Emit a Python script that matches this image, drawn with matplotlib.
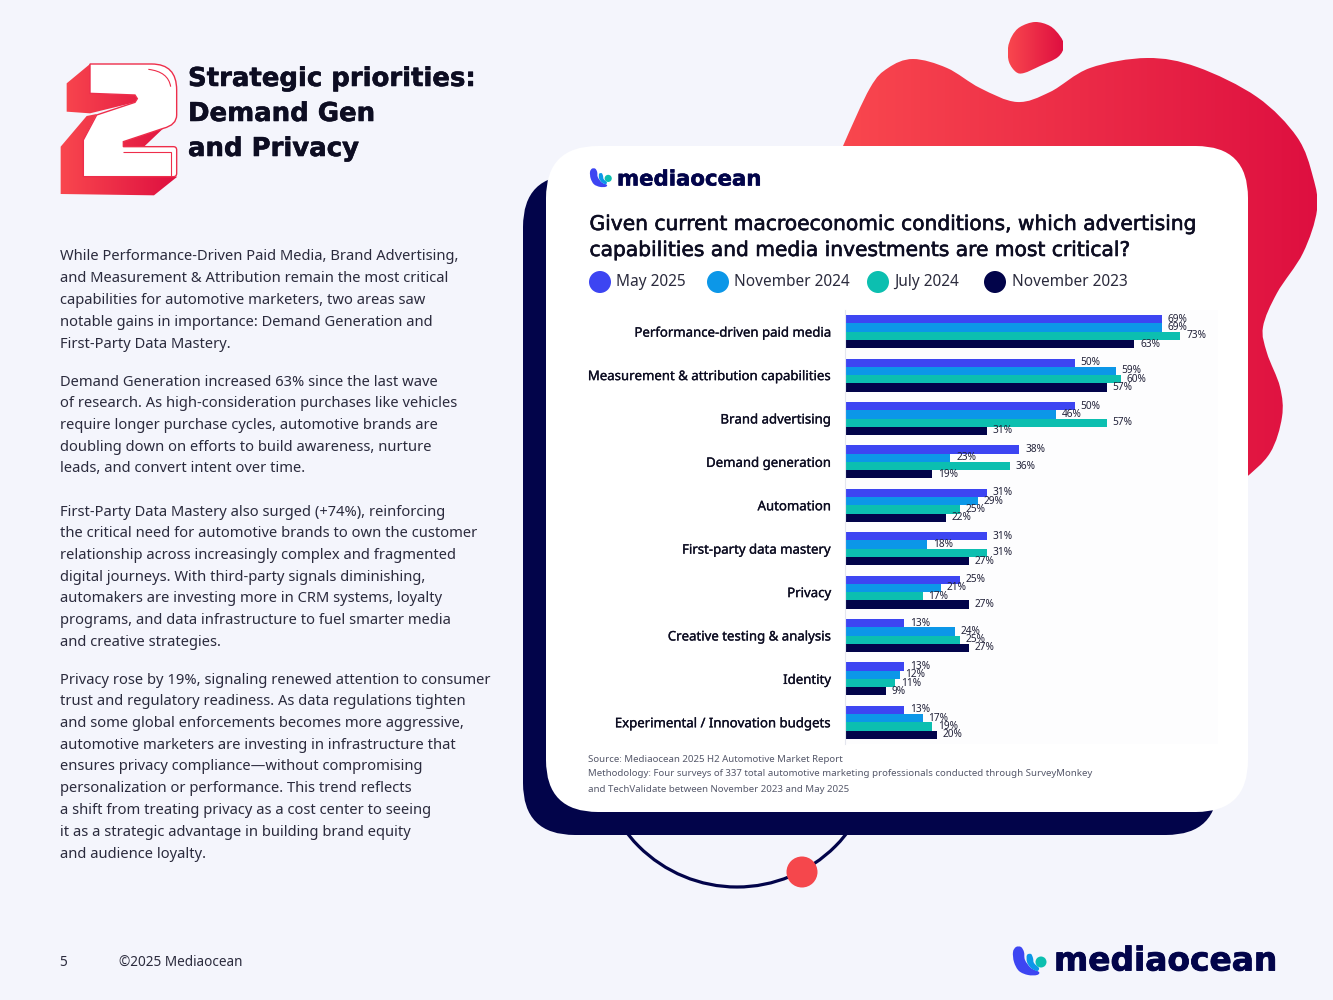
import numpy as np
import matplotlib
matplotlib.use("Agg")
import matplotlib.pyplot as plt
from matplotlib.path import Path
from matplotlib.patches import PathPatch, FancyBboxPatch, Circle, Arc
from matplotlib.textpath import TextPath
from matplotlib.font_manager import FontProperties
from matplotlib.colors import to_rgb
from matplotlib.transforms import ScaledTranslation
import matplotlib.patheffects as pe

# ---------- data ----------
categories = ["Performance-driven paid media", "Measurement & attribution capabilities",
              "Brand advertising", "Demand generation", "Automation", "First-party data mastery",
              "Privacy", "Creative testing & analysis", "Identity", "Experimental / Innovation budgets"]
may_2025 = [69, 50, 50, 38, 31, 31, 25, 13, 13, 13]
nov_2024 = [69, 59, 46, 23, 29, 18, 21, 24, 12, 17]
jul_2024 = [73, 60, 57, 36, 25, 31, 17, 25, 11, 19]
nov_2023 = [63, 57, 31, 19, 22, 27, 27, 27, 9, 20]
series_names = ["May 2025", "November 2024", "July 2024", "November 2023"]
series_colors = ["#3D45F2", "#0C97E8", "#0CBFB0", "#02044A"]

title_lines = ["Given current macroeconomic conditions, which advertising",
               "capabilities and media investments are most critical?"]
source_lines = ["Source: Mediaocean 2025 H2 Automotive Market Report",
                "Methodology: Four surveys of 337 total automotive marketing professionals conducted through SurveyMonkey",
                "and TechValidate between November 2023 and May 2025"]
heading_lines = ["Strategic priorities:", "Demand Gen", "and Privacy"]
body_blocks = [
    (257, 21.75, ["While Performance-Driven Paid Media, Brand Advertising,",
                  "and Measurement & Attribution remain the most critical",
                  "capabilities for automotive marketers, two areas saw",
                  "notable gains in importance: Demand Generation and",
                  "First-Party Data Mastery."]),
    (382, 21.75, ["Demand Generation increased 63% since the last wave",
                  "of research. As high-consideration purchases like vehicles",
                  "require longer purchase cycles, automotive brands are",
                  "doubling down on efforts to build awareness, nurture",
                  "leads, and convert intent over time."]),
    (512, 21.7, ["First-Party Data Mastery also surged (+74%), reinforcing",
                 "the critical need for automotive brands to own the customer",
                 "relationship across increasingly complex and fragmented",
                 "digital journeys. With third-party signals diminishing,",
                 "automakers are investing more in CRM systems, loyalty",
                 "programs, and data infrastructure to fuel smarter media",
                 "and creative strategies."]),
    (680, 21.75, ["Privacy rose by 19%, signaling renewed attention to consumer",
                  "trust and regulatory readiness. As data regulations tighten",
                  "and some global enforcements becomes more aggressive,",
                  "automotive marketers are investing in infrastructure that",
                  "ensures privacy compliance\u2014without compromising",
                  "personalization or performance. This trend reflects",
                  "a shift from treating privacy as a cost center to seeing",
                  "it as a strategic advantage in building brand equity",
                  "and audience loyalty."]),
]

# ---------- helpers ----------
W, H = 1333, 1000
BG = "#F4F5FC"
NAVY = "#02044A"
INK = "#0D0D22"
BODY = "#2B2B3D"
BODY_FONT = "Noto Sans"
HEAD_FONT = "DejaVu Sans"


def fit(text, family, weight, target_px):
    fp = FontProperties(family=family, weight=weight)
    w = TextPath((0, 0), text, size=100, prop=fp).get_extents().width
    return target_px * 72 / w


def smooth(pts):
    pts = np.asarray(pts, float)
    n = len(pts)
    verts = [pts[0]]
    codes = [Path.MOVETO]
    for i in range(n):
        p0, p1, p2, p3 = pts[(i - 1) % n], pts[i], pts[(i + 1) % n], pts[(i + 2) % n]
        verts += [p1 + (p2 - p0) / 6, p2 - (p3 - p1) / 6, p2]
        codes += [Path.CURVE4] * 3
    verts.append(pts[0])
    codes.append(Path.CLOSEPOLY)
    return Path(verts, codes)


def poly(pts):
    pts = list(pts)
    return Path(pts + [pts[0]], [Path.MOVETO] + [Path.LINETO] * (len(pts) - 1) + [Path.CLOSEPOLY])


def gradient_fill(ax, path, x0, x1, z, c0="#F9474E", c1="#DE0F40"):
    ys = path.vertices[:, 1]
    a, b = np.array(to_rgb(c0)), np.array(to_rgb(c1))
    t = np.linspace(0, 1, 256)[None, :, None]
    img = a[None, None, :] * (1 - t) + b[None, None, :] * t
    im = ax.imshow(img, extent=(x0, x1, ys.max() + 1, ys.min() - 1), aspect="auto", zorder=z,
                   interpolation="bilinear")
    patch = PathPatch(path, transform=ax.transData, fc="none", ec="none")
    ax.add_patch(patch)
    im.set_clip_path(patch)


def logo(ax, x, y, s, z=8):
    blue = [(0, 6), (3, 1), (8, 1), (11, 6), (12, 14), (18, 22), (26, 26), (24, 29), (15, 29), (6, 25), (1, 16)]
    cyan = [(14, 9), (18, 8), (20, 12), (21, 17), (26, 22), (24, 25), (18, 22), (14, 16)]
    to = lambda p: [(x + a * s, y + b * s) for a, b in p]
    ax.add_patch(PathPatch(smooth(to(blue)), fc="#3D45F2", ec="none", zorder=z))
    ax.add_patch(PathPatch(smooth(to(cyan)), fc="#0C97E8", ec="none", zorder=z + 0.1))
    ax.add_patch(Circle((x + 28 * s, y + 16 * s), 5.5 * s, fc="#0CBFB0", ec="none", zorder=z + 0.2))


def thick(w, c):
    return [pe.withStroke(linewidth=w, foreground=c)]


# ---------- canvas ----------
fig = plt.figure(figsize=(W / 100, H / 100), dpi=100, facecolor=BG)
bg = fig.add_axes([0, 0, 1, 1], zorder=0)
bg.set_axis_off()

# decorative blobs
big = [(825, 190), (843, 146), (870, 88), (888, 68), (913, 59), (947, 68), (980, 88), (1017, 102), (1050, 92), (1090, 68),
       (1147, 58), (1197, 67), (1257, 97), (1297, 137), (1313, 177), (1317, 210), (1303, 253),
       (1277, 293), (1263, 327), (1267, 353), (1280, 387), (1282, 417), (1270, 453), (1243, 480), (1215, 500),
       (1100, 450), (830, 300)]
gradient_fill(bg, smooth(big), 843, 1317, 1)
small = [(1020, 27), (1035, 22), (1050, 26), (1060, 36), (1064, 46), (1058, 57), (1040, 66), (1024, 73),
         (1016, 72), (1009, 62), (1008, 48), (1012, 36)]
gradient_fill(bg, smooth(small), 1008, 1063, 1)

# ring, shadow card, white card, dot
bg.add_patch(Arc((737, 748), 278, 278, theta1=0, theta2=180, ec=NAVY, lw=2.3, zorder=2))
bg.add_patch(FancyBboxPatch((523, 175), 695, 660, boxstyle="round,pad=0,rounding_size=52",
                            fc=NAVY, ec="none", zorder=3))
bg.add_patch(FancyBboxPatch((546, 146), 702, 666, boxstyle="round,pad=0,rounding_size=52",
                            fc="white", ec="none", zorder=4))
bg.add_patch(Circle((802, 872), 15.5, fc="#F5474C", ec="none", zorder=5))

# big "2"
Z = lambda p: [(40 + a / 3, 40 + b / 3) for a, b in p]
two_red = [
    [(150, 72), (80, 130), (80, 215), (150, 220), (285, 187), (292, 176), (285, 165), (150, 160)],
    [(170, 222), (140, 228), (62, 320), (62, 462), (342, 466), (412, 410), (130, 410), (130, 300)],
    [(250, 305), (370, 265), (310, 322), (250, 322)],
]
for p in two_red:
    gradient_fill(bg, poly(Z(p)), 60, 178, 6)
M, L, C = Path.MOVETO, Path.LINETO, Path.CURVE3
fv = [(150, 72), (335, 72), (410, 72), (410, 150), (410, 225), (410, 255), (370, 265), (250, 305), (250, 320),
      (400, 320), (410, 320), (410, 330), (410, 400), (410, 410), (400, 410), (130, 410), (130, 300), (170, 225),
      (285, 187), (292, 176), (285, 165), (150, 160), (150, 72)]
fc = [M, L, C, C, L, C, C, L, L, L, C, C, L, C, C, L, L, L, L, L, L, L, Path.CLOSEPOLY]
bg.add_patch(PathPatch(Path(Z(fv), fc), fc="white", ec="#EE2E4B", lw=1.0, zorder=7))
for vv, cc in (([(325, 88), (385, 95), (392, 140)], [M, C, C]),
               ([(250, 336), (392, 336), (392, 408)], [M, L, L])):
    bg.add_patch(PathPatch(Path(Z(vv), cc), fc="none", ec="#EE2E4B", lw=0.8, zorder=8))

# heading
hs = fit(heading_lines[0], HEAD_FONT, "bold", 283)
for y, t in zip((79, 114, 149), heading_lines):
    bg.text(188, y, t, family=HEAD_FONT, weight="bold", fontsize=hs, color=INK, va="center", ha="left", zorder=9,
            path_effects=thick(0.4, INK))

# body
bs = fit(body_blocks[0][2][0], BODY_FONT, "normal", 404) * 0.985
for y0, dy, lines in body_blocks:
    for i, t in enumerate(lines):
        bg.text(59.5, y0 + i * dy, t, family=BODY_FONT, fontsize=bs, color=BODY, va="center", ha="left", zorder=9)

# footer
bg.text(59.5, 962, "5", family=BODY_FONT, fontsize=bs * 0.93, color=BODY, va="center")
bg.text(119, 962, "\u00a92025 Mediaocean", family=BODY_FONT,
        fontsize=fit("\u00a92025 Mediaocean", BODY_FONT, "normal", 122), color=BODY, va="center")
logo(bg, 1013, 946, 1.0)
bg.text(1054, 961, "mediaocean", family=HEAD_FONT, weight="bold",
        fontsize=fit("mediaocean", HEAD_FONT, "bold", 218), color=NAVY, va="center", zorder=9,
        path_effects=thick(0.6, NAVY))

# card logo
logo(bg, 590, 168, 0.65)
bg.text(617, 179.5, "mediaocean", family=HEAD_FONT, weight="bold",
        fontsize=fit("mediaocean", HEAD_FONT, "bold", 141), color=NAVY, va="center", zorder=9,
        path_effects=thick(0.4, NAVY))

# card title
ts = fit(title_lines[0], HEAD_FONT, "normal", 604)
for y, t in zip((224.5, 250.5), title_lines):
    bg.text(589.5, y, t, family=HEAD_FONT, fontsize=ts, color=INK, va="center", zorder=9,
            path_effects=thick(0.45, INK))

# legend
leg_x = (600, 718, 878, 995)
ls = fit(series_names[1], BODY_FONT, "normal", 114)
for x, name, c in zip(leg_x, series_names, series_colors):
    bg.add_patch(Circle((x, 282), 11, fc=c, ec="none", zorder=9))
    bg.text(x + 16.5, 282.5, name, family=BODY_FONT, fontsize=ls, color=BODY, va="center", zorder=9)

# source notes
ss = fit(source_lines[1], BODY_FONT, "normal", 503)
for y, t in zip((759, 774, 790), source_lines):
    bg.text(588, y, t, family=BODY_FONT, fontsize=ss, color="#55586A", va="center", zorder=9)

bg.set_xlim(0, W)
bg.set_ylim(H, 0)

# ---------- bar chart ----------
ax_l, ax_r, ax_t, ax_b = 844.5, 1218, 310, 744
ax = fig.add_axes([ax_l / W, 1 - ax_b / H, (ax_r - ax_l) / W, (ax_b - ax_t) / H], zorder=2)
ax.set_facecolor("#FDFDFE")
y = np.arange(len(categories))
bar_h = 0.19
label_size = fit("69%", BODY_FONT, "normal", 19)
for j, (vals, c) in enumerate(zip((may_2025, nov_2024, jul_2024, nov_2023), series_colors)):
    bars = ax.barh(y + (j - 1.5) * bar_h, vals, height=bar_h, color=c, zorder=2)
    ax.bar_label(bars, labels=[f"{v}%" for v in vals], padding=4.2, fontsize=label_size,
                 family=BODY_FONT, color="#23233A", zorder=3)
ax.set_xlim(0, (ax_r - ax_l) / 4.6)
ax.set_ylim(len(categories) - 0.5, -0.5)
ax.set_xticks([])
ax.set_yticks(y)
cat_size = fit(categories[1], BODY_FONT, "normal", 241)
ax.set_yticklabels(categories, family=BODY_FONT, fontsize=cat_size, color=INK,
                   path_effects=thick(0.2, INK))
up = ScaledTranslation(0, 1 / 100, fig.dpi_scale_trans)
for lab in ax.get_yticklabels():
    lab.set_transform(lab.get_transform() + up)
ax.tick_params(axis="y", length=0, pad=9.5)
for s in ("top", "right", "bottom"):
    ax.spines[s].set_visible(False)
ax.spines["left"].set_color("#E4E6EE")
ax.spines["left"].set_linewidth(0.8)

fig.savefig("out.png", dpi=100, facecolor=BG)
